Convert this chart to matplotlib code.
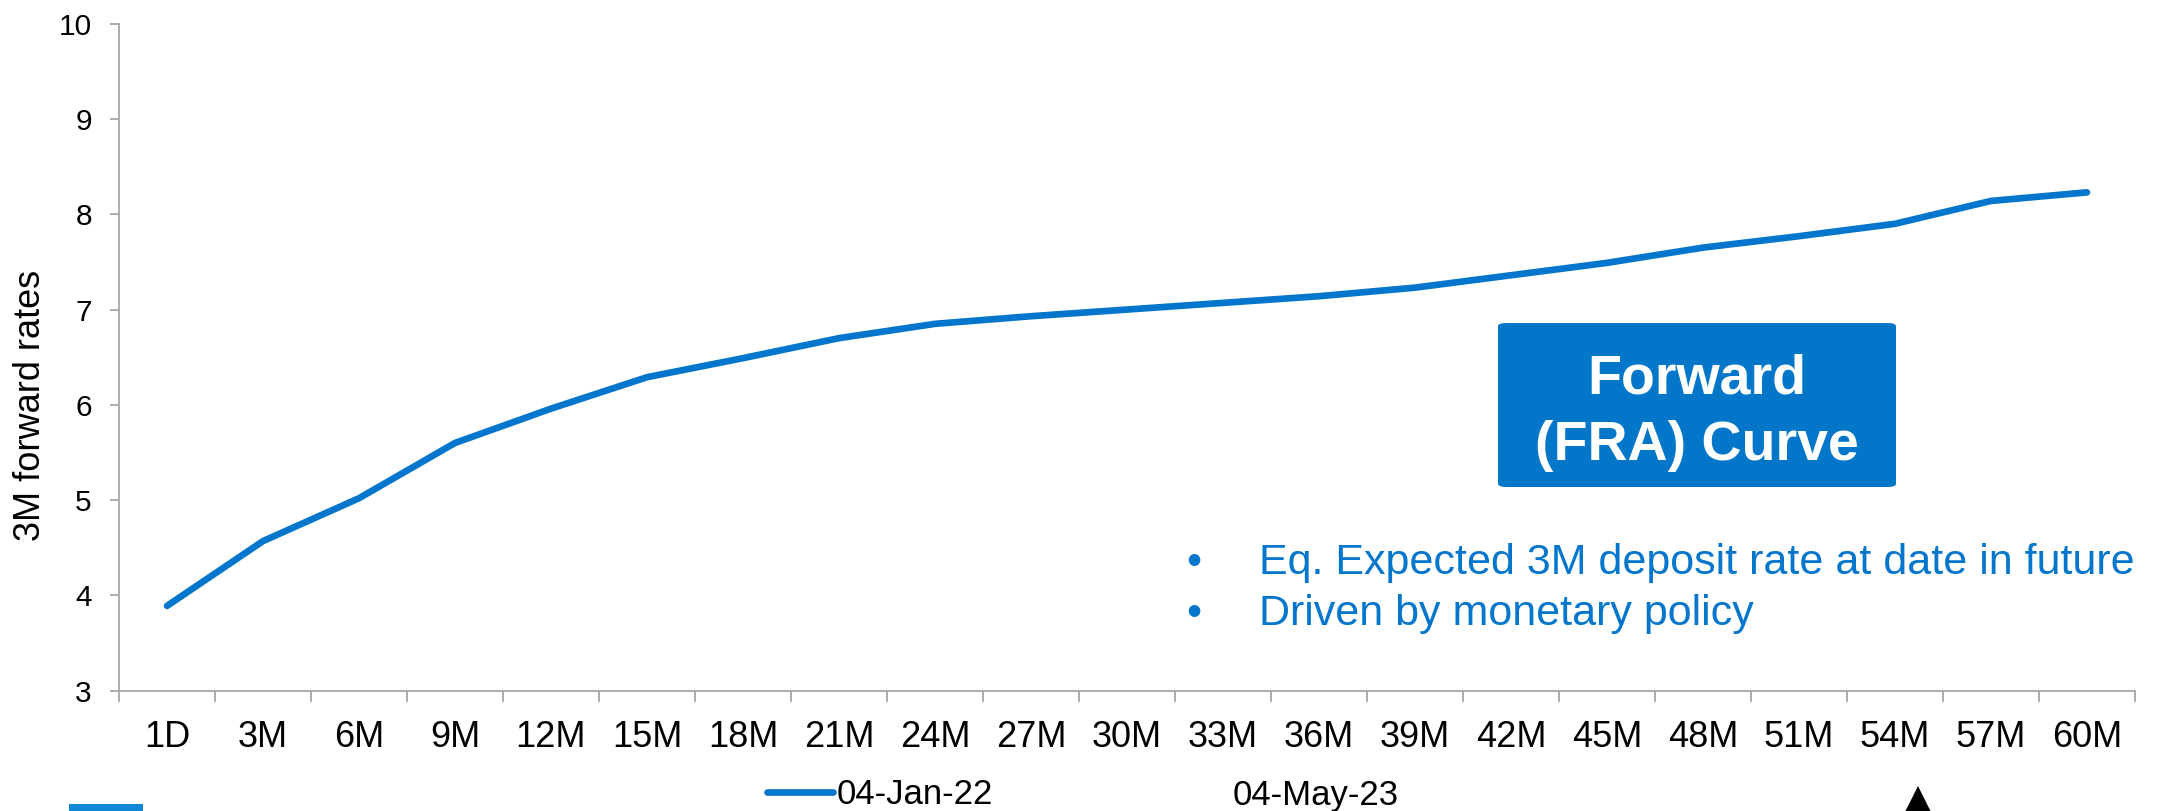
import matplotlib
matplotlib.use('Agg')
import matplotlib.pyplot as plt
from matplotlib.patches import FancyBboxPatch, Rectangle, Polygon
from matplotlib.lines import Line2D

plt.rcParams['font.family'] = ['Liberation Sans', 'DejaVu Sans']

BLUE = '#0176CC'
SPINE = '#A6A6A6'

TENORS = ['1D', '3M', '6M', '9M', '12M', '15M', '18M', '21M', '24M', '27M',
          '30M', '33M', '36M', '39M', '42M', '45M', '48M', '51M', '54M',
          '57M', '60M']
FRA_JAN22 = [3.89, 4.57, 5.02, 5.60, 5.96, 6.29, 6.49, 6.70, 6.85, 6.93,
             7.00, 7.07, 7.14, 7.23, 7.36, 7.49, 7.65, 7.77, 7.90,
             8.14, 8.23]
SERIES_LABELS = ['04-Jan-22', '04-May-23']
Y_TICKS = [3, 4, 5, 6, 7, 8, 9, 10]
BULLETS = ['Eq. Expected 3M deposit rate at date in future',
           'Driven by monetary policy']

W, H = 2158, 811
fig = plt.figure(figsize=(W / 100, H / 100), dpi=100)
ax = fig.add_axes([119 / W, 1 - 690.7 / H, (2135 - 119) / W, (690.7 - 23.7) / H])

x = list(range(len(TENORS)))
line, = ax.plot(x, FRA_JAN22, color=BLUE, lw=4.8, solid_capstyle='round',
                solid_joinstyle='round', label=SERIES_LABELS[0])

ax.set_xlim(-0.5, len(TENORS) - 0.5)
ax.set_ylim(3, 10)
ax.set_yticks(Y_TICKS)
ax.set_xticks(x)
ax.set_xticklabels(TENORS)
ax.set_xticks([i - 0.5 for i in range(len(TENORS) + 1)], minor=True)

for side in ['top', 'right']:
    ax.spines[side].set_visible(False)
for side in ['left', 'bottom']:
    ax.spines[side].set_color(SPINE)
    ax.spines[side].set_linewidth(1.3)

ax.tick_params(axis='x', which='major', length=0, pad=21, labelsize=26)
ax.tick_params(axis='x', which='minor', length=8, width=1.3, color=SPINE,
               direction='out')
ax.tick_params(axis='y', length=6.5, width=1.3, color=SPINE, pad=13,
               labelsize=21.5)

ax.set_ylabel('3M forward rates', fontsize=26)
ax.yaxis.set_label_coords(48 / W, 0.5, transform=fig.transFigure)

# callout box
box = FancyBboxPatch((1498 / W, 1 - 487 / H), 398 / W, 164 / H,
                     boxstyle='round,pad=0,rounding_size=0.004',
                     transform=fig.transFigure, facecolor='#0277C9',
                     edgecolor='none')
fig.patches.append(box)
fig.text(1697 / W, 1 - 393 / H, 'Forward', color='white', fontsize=40,
         fontweight='bold', ha='center', va='baseline')
fig.text(1697 / W, 1 - 460 / H, '(FRA) Curve', color='white', fontsize=40,
         fontweight='bold', ha='center', va='baseline')

for i, txt in enumerate(BULLETS):
    yb = 1 - (574 + 51 * i) / H
    fig.text(1194 / W, yb, '\u2022', color=BLUE, fontsize=31,
             ha='center', va='baseline')
    fig.text(1259 / W, yb, txt, color=BLUE, fontsize=31,
             ha='left', va='baseline')

# legend along the bottom edge
blank = Line2D([], [], linestyle='none', label=SERIES_LABELS[1])
fig.legend(handles=[line, blank], loc='center left',
           bbox_to_anchor=(767 / W, 1 - 795 / H), ncol=2, frameon=False,
           fontsize=25, handlelength=1.9, handletextpad=0.1,
           columnspacing=4.9, borderpad=0, borderaxespad=0)

fig.patches.append(Rectangle((69 / W, 1 - 815 / H), 74 / W, 11 / H,
                             transform=fig.transFigure, facecolor='#0F87D7',
                             edgecolor='none'))
fig.patches.append(Polygon([(1918 / W, 1 - 786 / H), (1902 / W, 1 - 818 / H),
                            (1934 / W, 1 - 818 / H)], closed=True,
                           transform=fig.transFigure, facecolor='black',
                           edgecolor='none'))

fig.savefig('out.png', dpi=100)
